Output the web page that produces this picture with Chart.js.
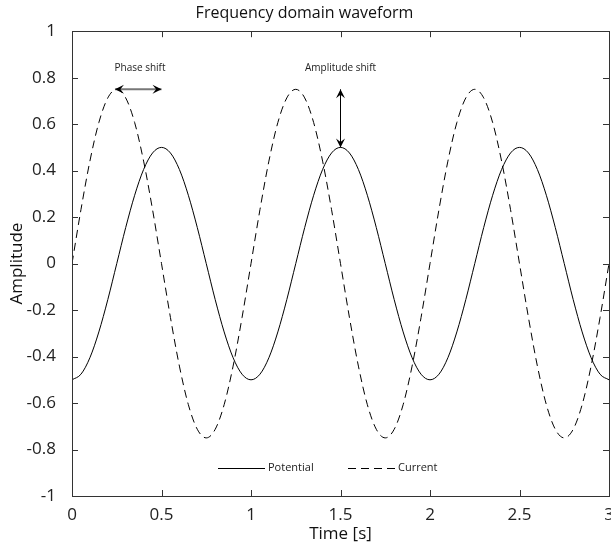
<!DOCTYPE html>
<html>
<head>
<meta charset="utf-8">
<script src="https://cdn.jsdelivr.net/npm/chart.js@4/dist/chart.umd.min.js"></script>
<style>
  html, body { margin: 0; padding: 0; background: #fff; overflow: hidden; }
  #wrap { width: 611px; height: 548px; }
</style>
</head>
<body>
<div id="wrap"><canvas id="myChart" width="611" height="548"></canvas></div>
<script>
// temps (s)
const time = [0, 0.05, 0.1, 0.15, 0.2, 0.25, 0.3, 0.35, 0.4, 0.45,
  0.5, 0.55, 0.6, 0.65, 0.7, 0.75, 0.8, 0.85, 0.9, 0.95,
  1, 1.05, 1.1, 1.15, 1.2, 1.25, 1.3, 1.35, 1.4, 1.45,
  1.5, 1.55, 1.6, 1.65, 1.7, 1.75, 1.8, 1.85, 1.9, 1.95,
  2, 2.05, 2.1, 2.15, 2.2, 2.25, 2.3, 2.35, 2.4, 2.45,
  2.5, 2.55, 2.6, 2.65, 2.7, 2.75, 2.8, 2.85, 2.9, 2.95, 3];

// courbe pleine
const potential = [-0.5, -0.476, -0.405, -0.294, -0.155, 0, 0.155, 0.294, 0.405, 0.476,
  0.5, 0.476, 0.405, 0.294, 0.155, 0, -0.155, -0.294, -0.405, -0.476,
  -0.5, -0.476, -0.405, -0.294, -0.155, 0, 0.155, 0.294, 0.405, 0.476,
  0.5, 0.476, 0.405, 0.294, 0.155, 0, -0.155, -0.294, -0.405, -0.476,
  -0.5, -0.476, -0.405, -0.294, -0.155, 0, 0.155, 0.294, 0.405, 0.476,
  0.5, 0.476, 0.405, 0.294, 0.155, 0, -0.155, -0.294, -0.405, -0.476, -0.5];

// courbe en tirets
const current = [0, 0.232, 0.441, 0.607, 0.713, 0.75, 0.713, 0.607, 0.441, 0.232,
  0, -0.232, -0.441, -0.607, -0.713, -0.75, -0.713, -0.607, -0.441, -0.232,
  0, 0.232, 0.441, 0.607, 0.713, 0.75, 0.713, 0.607, 0.441, 0.232,
  0, -0.232, -0.441, -0.607, -0.713, -0.75, -0.713, -0.607, -0.441, -0.232,
  0, 0.232, 0.441, 0.607, 0.713, 0.75, 0.713, 0.607, 0.441, 0.232,
  0, -0.232, -0.441, -0.607, -0.713, -0.75, -0.713, -0.607, -0.441, -0.232, 0];

const xTicks = [0, 0.5, 1, 1.5, 2, 2.5, 3];
const yTicks = [-1, -0.8, -0.6, -0.4, -0.2, 0, 0.2, 0.4, 0.6, 0.8, 1];

// annotations
const phaseArrow = { from: [0.24, 0.75], to: [0.5, 0.75], label: "Phase shift", labelAt: [0.38, 0.84] };
const ampArrow = { from: [1.5, 0.75], to: [1.5, 0.5], label: "Amplitude shift", labelAt: [1.5, 0.84] };

const FONT = "'Open Sans', 'Noto Sans', sans-serif";
const ctx = document.getElementById("myChart");

function toPoints(ys) {
  let pts = [];
  for (let i = 0; i < time.length; i++) {
    pts.push({ x: time[i], y: ys[i] });
  }
  return pts;
}

function arrowHead(c, x, y, angle) {
  const len = 9, half = 4.5;
  c.save();
  c.translate(x, y);
  c.rotate(angle);
  c.beginPath();
  c.moveTo(0, 0);
  c.lineTo(-len, -half);
  c.lineTo(-len * 0.6, 0);
  c.lineTo(-len, half);
  c.closePath();
  c.fillStyle = "#000";
  c.fill();
  c.restore();
}

// cadre, graduations internes, légende et flèches
const decor = {
  id: "decor",
  afterDraw(chart) {
    const c = chart.ctx;
    const a = chart.chartArea;
    const xs = chart.scales.x, ys = chart.scales.y;
    c.save();
    c.strokeStyle = "#333";
    c.lineWidth = 1;
    c.strokeRect(Math.round(a.left) + 0.5, Math.round(a.top) + 0.5,
      Math.round(a.right - a.left), Math.round(a.bottom - a.top));
    c.beginPath();
    xTicks.forEach(function (v) {
      const px = Math.round(xs.getPixelForValue(v)) + 0.5;
      c.moveTo(px, a.bottom); c.lineTo(px, a.bottom - 6);
      c.moveTo(px, a.top); c.lineTo(px, a.top + 6);
    });
    yTicks.forEach(function (v) {
      const py = Math.round(ys.getPixelForValue(v)) + 0.5;
      c.moveTo(a.left, py); c.lineTo(a.left + 6, py);
      c.moveTo(a.right, py); c.lineTo(a.right - 6, py);
    });
    c.stroke();

    // légende
    c.font = "11px " + FONT;
    c.fillStyle = "#222";
    c.textBaseline = "middle";
    const ly = 468;
    let lx = 218;
    chart.data.datasets.forEach(function (ds) {
      c.beginPath();
      c.setLineDash(ds.borderDash || []);
      c.strokeStyle = "#000";
      c.moveTo(lx, ly + 0.5);
      c.lineTo(lx + 47, ly + 0.5);
      c.stroke();
      c.setLineDash([]);
      c.fillText(ds.label, lx + 50, ly);
      lx += 130;
    });

    // flèches
    c.font = "10px " + FONT;
    c.textAlign = "center";
    [phaseArrow, ampArrow].forEach(function (ar) {
      const x1 = xs.getPixelForValue(ar.from[0]), y1 = ys.getPixelForValue(ar.from[1]);
      const x2 = xs.getPixelForValue(ar.to[0]), y2 = ys.getPixelForValue(ar.to[1]);
      c.beginPath();
      c.strokeStyle = ar === phaseArrow ? "#777" : "#000";
      c.lineWidth = ar === phaseArrow ? 2 : 1;
      c.moveTo(x1, y1);
      c.lineTo(x2, y2);
      c.stroke();
      const ang = Math.atan2(y2 - y1, x2 - x1);
      arrowHead(c, x2, y2, ang);
      arrowHead(c, x1, y1, ang + Math.PI);
      c.fillStyle = "#222";
      c.fillText(ar.label, xs.getPixelForValue(ar.labelAt[0]), ys.getPixelForValue(ar.labelAt[1]));
    });
    c.restore();
  }
};

function plainLabel(v) {
  return String(v);
}

new Chart(ctx, {
  type: "line",
  data: {
    datasets: [
      {
        label: "Potential",
        data: toPoints(potential),
        borderColor: "#000",
        borderWidth: 1,
        pointRadius: 0,
        cubicInterpolationMode: "monotone",
      },
      {
        label: "Current",
        data: toPoints(current),
        borderColor: "#000",
        borderWidth: 1,
        borderDash: [8, 5],
        pointRadius: 0,
        cubicInterpolationMode: "monotone",
      },
    ],
  },
  options: {
    responsive: false,
    animation: false,
    layout: { padding: { top: 0, right: 2, bottom: 2, left: 0 } },
    plugins: {
      legend: { display: false },
      tooltip: { enabled: false },
      title: {
        display: true,
        text: "Frequency domain waveform",
        color: "#111",
        font: { family: FONT, size: 16, weight: "normal" },
        padding: { top: 4, bottom: 8 },
      },
    },
    scales: {
      x: {
        type: "linear",
        min: 0,
        max: 3,
        grid: { display: false },
        border: { display: false },
        afterBuildTicks: function (s) { s.ticks = xTicks.map(function (v) { return { value: v }; }); },
        afterFit: function (s) { s.paddingRight = 0; s.paddingLeft = 0; s.height = 50; },
        ticks: { color: "#222", padding: 1, callback: plainLabel, font: { family: FONT, size: 17 }, autoSkip: false, maxRotation: 0 },
        title: { display: true, text: "Time [s]", color: "#111", padding: { top: 0, bottom: 2 }, font: { family: FONT, size: 17 } },
      },
      y: {
        min: -1,
        max: 1,
        grid: { display: false },
        border: { display: false },
        afterBuildTicks: function (s) { s.ticks = yTicks.map(function (v) { return { value: v }; }); },
        afterFit: function (s) { s.width = 72; },
        ticks: { color: "#222", padding: 8, callback: plainLabel, font: { family: FONT, size: 17 } },
        title: { display: true, text: "Amplitude", color: "#111", padding: { top: 7, bottom: 0 }, font: { family: FONT, size: 17 } },
      },
    },
  },
  plugins: [decor],
});
</script>
</body>
</html>
